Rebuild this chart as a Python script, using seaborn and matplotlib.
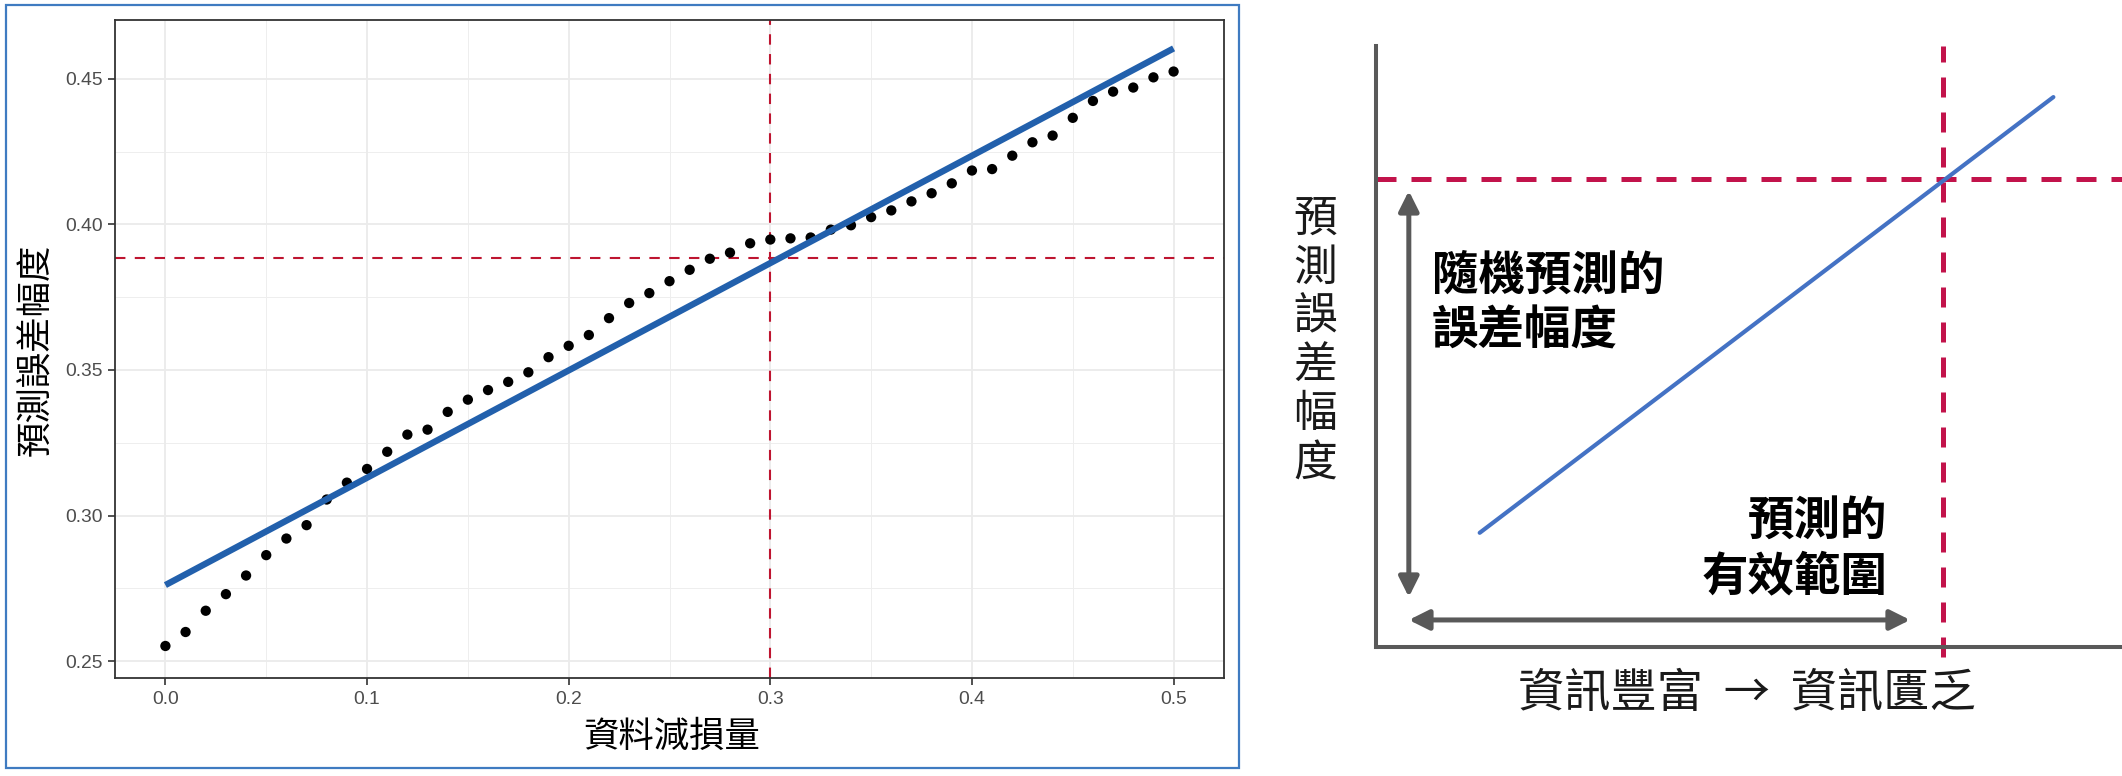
import numpy as np
import pandas as pd
import matplotlib
matplotlib.use("Agg")
import matplotlib.pyplot as plt
from matplotlib.patches import Rectangle
import seaborn as sns

# ---------------- data (left panel) ----------------
loss_amount = [round(i * 0.01, 2) for i in range(51)]
pred_error = [
    0.2552, 0.2600, 0.2673, 0.2730, 0.2794, 0.2864, 0.2921, 0.2967, 0.3055, 0.3113,
    0.3160, 0.3219, 0.3278, 0.3295, 0.3356, 0.3398, 0.3431, 0.3459, 0.3492, 0.3544,
    0.3583, 0.3620, 0.3678, 0.3730, 0.3764, 0.3805, 0.3844, 0.3882, 0.3903, 0.3935,
    0.3948, 0.3952, 0.3955, 0.3982, 0.3997, 0.4025, 0.4048, 0.4079, 0.4107, 0.4141,
    0.4185, 0.4190, 0.4236, 0.4282, 0.4305, 0.4366, 0.4424, 0.4456, 0.4470, 0.4505,
    0.4525,
]
threshold_loss = 0.3
random_error = 0.3885
x_ticks = [0.0, 0.1, 0.2, 0.3, 0.4, 0.5]
x_tick_labels = ["0.0", "0.1", "0.2", "0.3", "0.4", "0.5"]
y_ticks = [0.25, 0.30, 0.35, 0.40, 0.45]
y_tick_labels = ["0.25", "0.30", "0.35", "0.40", "0.45"]
x_minor = [0.05, 0.15, 0.25, 0.35, 0.45]
y_minor = [0.275, 0.325, 0.375, 0.425]
left_xlabel = "資料減損量"
left_ylabel = "預測誤差幅度"

# ---------------- data (right schematic) ----------------
schem_line_x = [0.139, 0.908]
schem_line_y = [0.190, 0.915]
schem_thr_x = 0.760
schem_thr_y = 0.779
vert_arrow_x = 0.044
vert_arrow_y = [0.083, 0.759]
horiz_arrow_y = 0.045
horiz_arrow_x = [0.044, 0.716]
text_random = "隨機預測的\n誤差幅度"
text_valid = "預測的\n有效範圍"
right_ylabel = "預測誤差幅度"
right_xlabel = "資訊豐富  →  資訊匱乏"

df = pd.DataFrame({"loss": loss_amount, "err": pred_error})

sns.set_theme(style="white")
CJK = ["Noto Sans CJK TC", "DejaVu Sans"]
LAT = ["Liberation Sans", "DejaVu Sans"]
plt.rcParams["font.family"] = CJK

W, H = 2122, 776
fig = plt.figure(figsize=(W / 100, H / 100), dpi=100)

# blue frame around left panel
fig.patches.append(Rectangle((6 / W, (H - 768) / H), 1233 / W, 763 / H,
                             transform=fig.transFigure, fill=False,
                             edgecolor="#3F7BC1", linewidth=1.6, zorder=0))

# ---------------- left panel ----------------
ax = fig.add_axes([115 / W, (H - 678) / H, 1109 / W, 658 / H])
ax.set_facecolor("white")
for v in x_minor:
    ax.axvline(v, color="#EEEEEE", lw=0.7, zorder=0)
for v in y_minor:
    ax.axhline(v, color="#EEEEEE", lw=0.7, zorder=0)
for v in x_ticks:
    ax.axvline(v, color="#EBEBEB", lw=1.3, zorder=0)
for v in y_ticks:
    ax.axhline(v, color="#EBEBEB", lw=1.3, zorder=0)

red1 = "#BE1530"
ax.axvline(threshold_loss, color=red1, lw=1.5, ls=(0, (5, 4.5)), zorder=1)
ax.axhline(random_error, color=red1, lw=1.5, ls=(0, (5, 4.5)), zorder=1)

sns.scatterplot(data=df, x="loss", y="err", ax=ax, color="black", s=55,
                edgecolor="none", zorder=3)
sns.regplot(data=df, x="loss", y="err", ax=ax, scatter=False, ci=None,
            line_kws={"color": "#2260AC", "lw": 4.6, "zorder": 4,
                      "solid_capstyle": "butt"})

ax.set_xlim(-0.025, 0.525)
ax.set_ylim(0.2442, 0.4702)
ax.set_xticks(x_ticks)
ax.set_xticklabels(x_tick_labels, fontfamily=LAT, fontsize=13.9, color="#4D4D4D")
ax.set_yticks(y_ticks)
ax.set_yticklabels(y_tick_labels, fontfamily=LAT, fontsize=13.9, color="#4D4D4D")
ax.tick_params(axis="both", length=5, width=1.2, color="#333333", pad=4,
               bottom=True, left=True)
for s in ax.spines.values():
    s.set_color("#333333")
    s.set_linewidth(1.3)
ax.set_xlabel("")
ax.set_ylabel("")
fig.text(672 / W, (H - 737) / H, left_xlabel, ha="center", va="center",
         fontsize=25.5, family=CJK, color="black")
fig.text(36 / W, (H - 350) / H, left_ylabel, ha="center", va="center",
         fontsize=25.5, family=CJK, color="black", rotation=90)

# ---------------- right schematic ----------------
rx = fig.add_axes([1376 / W, (H - 647) / H, 746 / W, 601 / H])
rx.set_xlim(0, 1)
rx.set_ylim(0, 1)
rx.set_facecolor("none")
for side in ["top", "right"]:
    rx.spines[side].set_visible(False)
for side in ["left", "bottom"]:
    rx.spines[side].set_color("#595959")
    rx.spines[side].set_linewidth(2.9)
rx.set_xticks([])
rx.set_yticks([])

red2 = "#C2134B"
rx.plot([schem_thr_x, schem_thr_x], [-0.017, 1.0], color=red2, lw=3.6,
        ls=(0, (4, 3)), clip_on=False, zorder=2)
rx.plot([0, 1], [schem_thr_y, schem_thr_y], color=red2, lw=3.6,
        ls=(0, (4, 3)), clip_on=False, zorder=2)
sns.lineplot(x=schem_line_x, y=schem_line_y, ax=rx, color="#4472C4", lw=3.0,
             zorder=3)

arrow_kw = dict(arrowstyle="<|-|>,head_length=0.6,head_width=0.3",
                color="#595959", lw=3.6, shrinkA=0, shrinkB=0,
                mutation_scale=20)
rx.annotate("", xy=(vert_arrow_x, vert_arrow_y[1]),
            xytext=(vert_arrow_x, vert_arrow_y[0]), arrowprops=arrow_kw)
rx.annotate("", xy=(horiz_arrow_x[1], horiz_arrow_y),
            xytext=(horiz_arrow_x[0], horiz_arrow_y), arrowprops=arrow_kw)

rx.text(0.075, 0.572, text_random, ha="left", va="center", fontsize=33.5,
        fontweight="bold", family=CJK, color="black", linespacing=1.2)
rx.text(0.686, 0.164, text_valid, ha="right", va="center", fontsize=33.5,
        fontweight="bold", family=CJK, color="black", linespacing=1.2,
        multialignment="right")
rx.text(-0.082, 0.509, "\n".join(right_ylabel), ha="center", va="center",
        fontsize=31.5, family=CJK, color="#1A1A1A", linespacing=1.08,
        transform=rx.transAxes, clip_on=False)
rx.text(0.497, -0.078, right_xlabel, ha="center", va="center", fontsize=33.3,
        family=CJK, color="#1A1A1A", transform=rx.transAxes, clip_on=False)

fig.savefig("out.png", dpi=100)
